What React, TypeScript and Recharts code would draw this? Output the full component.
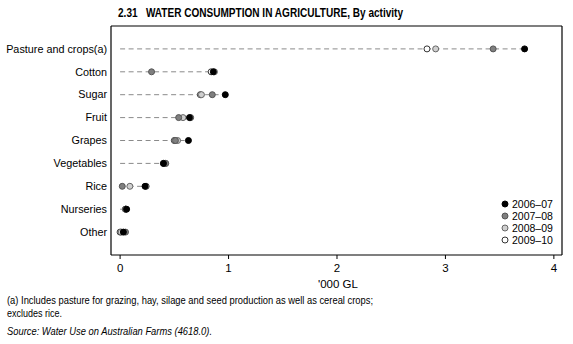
import React from 'react';
import { ScatterChart, Scatter, XAxis, YAxis, ReferenceLine, Legend } from 'recharts';

const categories = ['Pasture and crops(a)', 'Cotton', 'Sugar', 'Fruit', 'Grapes', 'Vegetables', 'Rice', 'Nurseries', 'Other'];
const seriesNames = ['2006–07', '2007–08', '2008–09', '2009–10'];
const v0607 = [3.73, 0.86, 0.97, 0.64, 0.63, 0.40, 0.23, 0.06, 0.03];
const v0708 = [3.44, 0.29, 0.85, 0.54, 0.51, 0.42, 0.02, 0.05, 0.05];
const v0809 = [2.91, 0.87, 0.75, 0.58, 0.53, 0.42, 0.09, 0.05, 0.01];
const v0910 = [2.83, 0.84, 0.74, 0.65, 0.50, 0.40, 0.24, 0.05, 0.00];
const xTicks = [0, 1, 2, 3, 4];

const titleText = '2.31   WATER CONSUMPTION IN AGRICULTURE, By activity';
const axisLabel = "'000 GL";
const footnote1 = '(a) Includes pasture for grazing, hay, silage and seed production as well as cereal crops;';
const footnote2 = 'excludes rice.';
const sourceText = 'Source: Water Use on Australian Farms (4618.0).';

const FONT = "'Liberation Sans', Arial, sans-serif";

const styles = [
  { fill: '#000000', stroke: '#000000' },
  { fill: '#7f7f7f', stroke: '#555555' },
  { fill: '#cfcfcf', stroke: '#666666' },
  { fill: '#ffffff', stroke: '#333333' },
];

const allSeries = [v0607, v0708, v0809, v0910];

const seriesData = allSeries.map((vals) =>
  categories.map((c, i) => ({ x: vals[i], y: i + 1, name: c }))
);

const rowMax = categories.map((_, i) => Math.max(...allSeries.map((s) => s[i])));

const Dot = (props: any) => {
  const { cx, cy, fill, stroke } = props;
  if (cx == null || cy == null) return null;
  return <circle cx={cx} cy={cy} r={3} fill={fill} stroke={stroke} strokeWidth={1} />;
};

const CatTick = (props: any) => {
  const { x, y, payload } = props;
  const label = categories[payload.value - 1] || '';
  return (
    <text x={x} y={y} dy="0.35em" textAnchor="end" fill="#000" fontSize={10.8} fontFamily={FONT}>
      {label}
    </text>
  );
};

const LegendContent = (props: any) => {
  const { payload } = props;
  const items = (payload || []).slice().sort((a: any, b: any) => String(a.value).localeCompare(String(b.value)));
  return (
    <div style={{ fontFamily: FONT, fontSize: 10.5, lineHeight: '12px', color: '#000' }}>
      {items.map((p: any) => {
        const idx = seriesNames.indexOf(p.value);
        const st = styles[idx] || styles[0];
        return (
          <div key={p.value} style={{ display: 'flex', alignItems: 'center', height: 12 }}>
            <svg width={10} height={10} style={{ marginRight: 2 }}>
              <circle cx={5} cy={5} r={3} fill={st.fill} stroke={st.stroke} strokeWidth={1} />
            </svg>
            <span>{p.value}</span>
          </div>
        );
      })}
    </div>
  );
};

const DOMAIN: [number, number] = [-0.084, 4.075];

export default function App() {
  return (
    <div style={{ position: 'absolute', left: 0, top: 0, width: 573, height: 344, background: '#fff', fontFamily: FONT }}>
      <div style={{ position: 'absolute', left: 0, top: 0 }}>
        <ScatterChart width={573} height={344} margin={{ top: 22, right: 10, bottom: 59, left: 0 }}>
          <XAxis
            xAxisId="bottom"
            type="number"
            dataKey="x"
            domain={DOMAIN}
            ticks={xTicks}
            allowDataOverflow
            height={30}
            axisLine={{ stroke: '#000', strokeWidth: 1.2 }}
            tickLine={{ stroke: '#000' }}
            tickSize={4}
            tickMargin={5}
            tick={{ fill: '#000', fontSize: 11.5, fontFamily: FONT }}
          />
          <XAxis
            xAxisId="top"
            orientation="top"
            type="number"
            domain={DOMAIN}
            ticks={xTicks}
            allowDataOverflow
            height={4}
            axisLine={{ stroke: '#000', strokeWidth: 1.2 }}
            tickLine={{ stroke: '#000' }}
            tickSize={4}
            tick={false}
          />
          <YAxis
            yAxisId="left"
            type="number"
            dataKey="y"
            domain={[0, 10]}
            reversed
            ticks={[1, 2, 3, 4, 5, 6, 7, 8, 9]}
            interval={0}
            width={111}
            axisLine={{ stroke: '#000', strokeWidth: 1.2 }}
            tickLine={false}
            tickSize={0}
            tickMargin={4}
            tick={<CatTick />}
          />
          <YAxis
            yAxisId="right"
            orientation="right"
            type="number"
            domain={[0, 10]}
            width={1}
            axisLine={{ stroke: '#000', strokeWidth: 1.2 }}
            tickLine={false}
            tick={false}
          />
          {categories.map((c, i) => (
            <ReferenceLine
              key={c}
              xAxisId="bottom"
              yAxisId="left"
              segment={[{ x: 0, y: i + 1 }, { x: rowMax[i], y: i + 1 }]}
              stroke="#8a8a8a"
              strokeDasharray="5 3.5"
              strokeWidth={1}
            />
          ))}
          {[3, 2, 1, 0].map((k) => (
            <Scatter
              key={seriesNames[k]}
              name={seriesNames[k]}
              data={seriesData[k]}
              xAxisId="bottom"
              yAxisId="left"
              fill={styles[k].fill}
              stroke={styles[k].stroke}
              shape={<Dot fill={styles[k].fill} stroke={styles[k].stroke} />}
              isAnimationActive={false}
            />
          ))}
          <Legend
            layout="horizontal"
            verticalAlign="middle"
            align="center"
            content={<LegendContent />}
            wrapperStyle={{ position: 'absolute', left: 500, top: 198, width: 70, height: 50 }}
          />
        </ScatterChart>
      </div>
      <svg width={573} height={344} style={{ position: 'absolute', left: 0, top: 0, pointerEvents: 'none' }}>
        <text x={118} y={17} fontFamily={FONT} fontSize={13} fontWeight="bold" fill="#000" textLength={285} lengthAdjust="spacingAndGlyphs" style={{ whiteSpace: 'pre' }}>
          {titleText}
        </text>
        <text x={338} y={288} textAnchor="middle" fontFamily={FONT} fontSize={11.5} fill="#000">
          {axisLabel}
        </text>
        <text x={7} y={304} fontFamily={FONT} fontSize={11} fill="#000" textLength={366} lengthAdjust="spacingAndGlyphs">
          {footnote1}
        </text>
        <text x={7} y={317} fontFamily={FONT} fontSize={11} fill="#000" textLength={55} lengthAdjust="spacingAndGlyphs">
          {footnote2}
        </text>
        <text x={7} y={335} fontFamily={FONT} fontSize={11} fontStyle="italic" fill="#000" textLength={205} lengthAdjust="spacingAndGlyphs">
          {sourceText}
        </text>
      </svg>
    </div>
  );
}
